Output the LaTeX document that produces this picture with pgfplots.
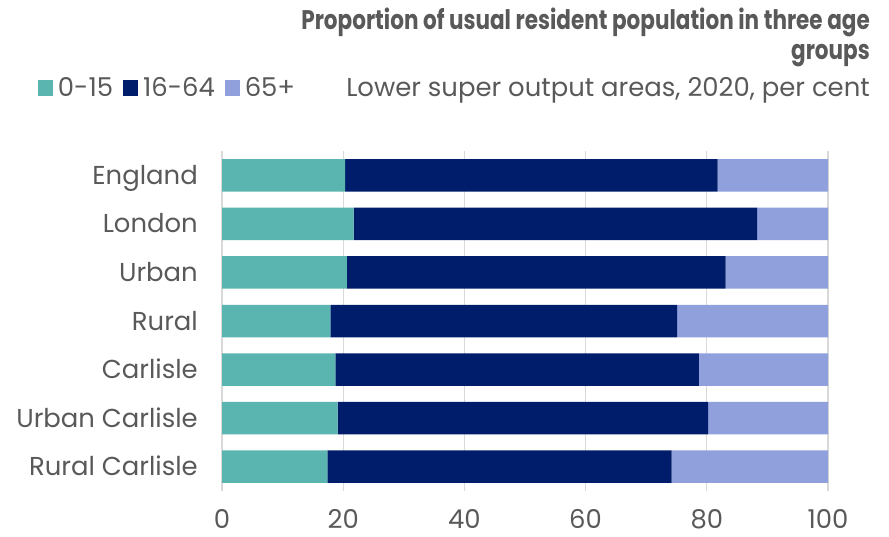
\documentclass[border=0pt]{standalone}
\usepackage{pgfplots}
\pgfplotsset{compat=1.18}
\usepackage{fontspec}
\setmainfont{Poppins}
\newfontfamily\titlefont{Poppins}[FakeStretch=0.8]
\definecolor{cA}{HTML}{5AB5B0}
\definecolor{cB}{HTML}{001D6C}
\definecolor{cC}{HTML}{8FA0DD}
\definecolor{txt}{HTML}{595959}
\begin{document}
\begin{tikzpicture}
\useasboundingbox (0,0) rectangle (889bp,537bp);
\node[anchor=base east, text=txt, inner sep=0pt] at (870bp,507bp) {\titlefont\bfseries\fontsize{27}{30}\selectfont Proportion of usual resident population in three age};
\node[anchor=base east, text=txt, inner sep=0pt] at (870bp,477bp) {\titlefont\bfseries\fontsize{27}{30}\selectfont groups};
\node[anchor=base east, text=txt, inner sep=0pt] at (870bp,440bp) {\fontsize{26}{30}\selectfont Lower super output areas, 2020, per cent};
\begin{axis}[
  at={(222bp,46bp)}, anchor=south west,
  scale only axis, width=606bp, height=340bp,
  xbar stacked, bar width=32.5bp,
  xmin=0, xmax=100, ymin=-0.5, ymax=6.5, y dir=reverse,
  ytick={0,...,6},
  yticklabels={England,London,Urban,Rural,Carlisle,Urban Carlisle,Rural Carlisle},
  xtick={0,20,...,100},
  xmajorgrids, grid style={draw=black!15, line width=1.2bp},
  axis line style={draw=none}, major tick length=0pt,
  /pgf/number format/assume math mode=true,
  ticklabel style={font=\fontsize{26}{30}\selectfont, text=txt},
  xticklabel style={anchor=center, inner sep=0pt, yshift=-28bp},
  yticklabel style={anchor=base east, inner sep=0pt, xshift=-24bp, yshift=-9bp},
  legend columns=3,
  legend style={at={(-0.304,1.185)}, anchor=west, draw=none, fill=none,
    font=\fontsize{26}{30}\selectfont, text=txt, inner sep=0pt,
    /tikz/every odd column/.append style={column sep=3bp},
    /tikz/every even column/.append style={column sep=8bp}},
  legend image code/.code={\fill[#1] (0bp,-8bp) rectangle (15bp,8bp);},
  every axis plot/.append style={draw=none},
]
\addplot[fill=cA] coordinates {(20.3,0) (21.7,1) (20.6,2) (17.9,3) (18.7,4) (19.1,5) (17.4,6)};
\addplot[fill=cB] coordinates {(61.5,0) (66.6,1) (62.5,2) (57.2,3) (60.0,4) (61.1,5) (56.8,6)};
\addplot[fill=cC] coordinates {(18.2,0) (11.7,1) (16.9,2) (24.9,3) (21.3,4) (19.8,5) (25.8,6)};
\legend{0-15,16-64,65+}
\end{axis}
\end{tikzpicture}
\end{document}
